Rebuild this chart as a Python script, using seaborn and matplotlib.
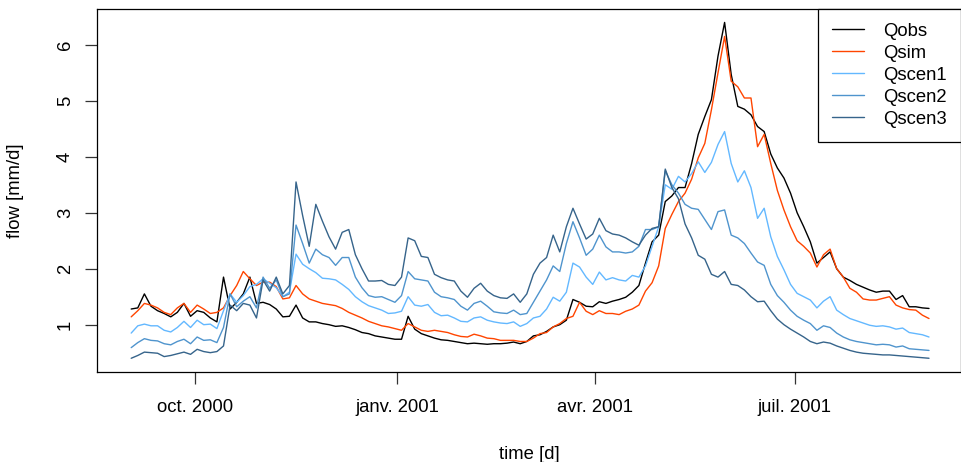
import numpy as np
import pandas as pd
import matplotlib
matplotlib.use("Agg")
import matplotlib.pyplot as plt
from matplotlib.lines import Line2D
import seaborn as sns

# ---------------- data (daily flows read every 3 days) ----------------
start_date = "2000-09-02"
step_days = 3

qobs = [1.28, 1.30, 1.55, 1.33, 1.25, 1.20, 1.14, 1.22, 1.38, 1.15,
        1.25, 1.22, 1.12, 1.05, 1.85, 1.28, 1.40, 1.55, 1.85, 1.38,
        1.40, 1.36, 1.28, 1.14, 1.15, 1.35, 1.12, 1.05, 1.05, 1.02,
        1.00, 0.97, 0.98, 0.95, 0.91, 0.86, 0.84, 0.80, 0.78, 0.76,
        0.74, 0.74, 1.15, 0.92, 0.84, 0.80, 0.76, 0.73, 0.72, 0.70,
        0.68, 0.66, 0.67, 0.66, 0.65, 0.66, 0.66, 0.67, 0.69, 0.66,
        0.70, 0.80, 0.82, 0.88, 0.96, 1.00, 1.08, 1.45, 1.40, 1.33,
        1.32, 1.41, 1.38, 1.42, 1.45, 1.49, 1.58, 1.70, 2.10, 2.48,
        2.60, 3.20, 3.30, 3.45, 3.45, 3.88, 4.40, 4.72, 5.02, 5.80,
        6.40, 5.47, 4.90, 4.85, 4.75, 4.54, 4.45, 4.05, 3.80, 3.62,
        3.35, 3.00, 2.75, 2.48, 2.10, 2.20, 2.30, 2.00, 1.85, 1.79,
        1.72, 1.67, 1.62, 1.58, 1.60, 1.60, 1.45, 1.52, 1.32, 1.32,
        1.30, 1.29]

qsim = [1.14, 1.25, 1.38, 1.35, 1.30, 1.22, 1.18, 1.30, 1.38, 1.22,
        1.35, 1.28, 1.20, 1.22, 1.30, 1.52, 1.70, 1.95, 1.82, 1.70,
        1.76, 1.76, 1.68, 1.46, 1.48, 1.70, 1.55, 1.46, 1.42, 1.38,
        1.36, 1.34, 1.29, 1.22, 1.17, 1.12, 1.06, 1.02, 0.98, 0.96,
        0.93, 0.90, 1.02, 0.96, 0.90, 0.88, 0.90, 0.88, 0.86, 0.82,
        0.79, 0.78, 0.83, 0.80, 0.76, 0.75, 0.72, 0.72, 0.72, 0.70,
        0.70, 0.76, 0.84, 0.86, 0.96, 1.02, 1.11, 1.15, 1.40, 1.24,
        1.18, 1.25, 1.20, 1.20, 1.18, 1.24, 1.28, 1.35, 1.60, 1.75,
        2.05, 2.72, 2.97, 3.20, 3.35, 3.60, 3.98, 4.24, 4.84, 5.50,
        6.15, 5.35, 5.25, 5.05, 5.05, 4.18, 4.40, 3.88, 3.40, 3.05,
        2.75, 2.50, 2.40, 2.28, 2.03, 2.25, 2.35, 2.00, 1.85, 1.65,
        1.58, 1.46, 1.44, 1.44, 1.47, 1.50, 1.35, 1.30, 1.27, 1.26,
        1.17, 1.11]

qscen1 = [0.85, 0.98, 1.01, 0.98, 0.98, 0.90, 0.87, 0.95, 1.06, 0.95,
          1.08, 1.00, 1.01, 0.93, 1.25, 1.55, 1.40, 1.52, 1.68, 1.72,
          1.82, 1.74, 1.66, 1.50, 1.58, 2.26, 2.08, 2.00, 1.93, 1.83,
          1.82, 1.80, 1.72, 1.63, 1.50, 1.41, 1.34, 1.30, 1.26, 1.20,
          1.21, 1.24, 1.50, 1.35, 1.33, 1.36, 1.22, 1.16, 1.17, 1.12,
          1.06, 1.05, 1.12, 1.14, 1.08, 1.05, 1.03, 1.02, 1.05, 0.97,
          1.02, 1.12, 1.15, 1.28, 1.49, 1.42, 1.58, 2.10, 2.03, 1.85,
          1.72, 1.94, 1.80, 1.84, 1.80, 1.78, 1.88, 1.85, 2.05, 2.40,
          2.75, 3.50, 3.42, 3.65, 3.55, 3.70, 3.91, 3.72, 3.90, 4.22,
          4.45, 3.88, 3.55, 3.75, 3.45, 2.90, 3.08, 2.57, 2.22, 1.98,
          1.72, 1.56, 1.50, 1.44, 1.30, 1.42, 1.50, 1.26, 1.18, 1.11,
          1.07, 1.03, 0.99, 0.97, 0.98, 0.96, 0.92, 0.94, 0.86, 0.84,
          0.82, 0.78]

qscen2 = [0.59, 0.68, 0.75, 0.72, 0.71, 0.66, 0.64, 0.70, 0.74, 0.66,
          0.78, 0.72, 0.73, 0.68, 0.95, 1.55, 1.32, 1.42, 1.50, 1.30,
          1.85, 1.65, 1.80, 1.50, 1.55, 2.78, 2.45, 2.10, 2.35, 2.25,
          2.20, 2.06, 2.20, 2.20, 1.85, 1.66, 1.52, 1.49, 1.50, 1.45,
          1.40, 1.52, 1.95, 1.82, 1.80, 1.78, 1.58, 1.50, 1.48, 1.45,
          1.33, 1.26, 1.38, 1.42, 1.33, 1.23, 1.21, 1.20, 1.26, 1.18,
          1.20, 1.40, 1.60, 1.80, 2.05, 1.95, 2.45, 2.84, 2.55, 2.24,
          2.35, 2.60, 2.39, 2.30, 2.30, 2.28, 2.30, 2.40, 2.70, 2.70,
          2.75, 3.75, 3.50, 3.35, 3.15, 3.08, 3.06, 2.88, 2.70, 3.02,
          3.05, 2.60, 2.55, 2.45, 2.28, 2.12, 2.06, 1.72, 1.52, 1.40,
          1.26, 1.15, 1.08, 1.02, 0.90, 0.98, 0.95, 0.85, 0.78, 0.73,
          0.70, 0.68, 0.66, 0.64, 0.65, 0.64, 0.60, 0.62, 0.57, 0.56,
          0.55, 0.54]

qscen3 = [0.40, 0.45, 0.51, 0.50, 0.49, 0.43, 0.45, 0.48, 0.51, 0.47,
          0.56, 0.52, 0.50, 0.52, 0.62, 1.35, 1.25, 1.38, 1.35, 1.12,
          1.80, 1.60, 1.85, 1.55, 1.70, 3.55, 2.95, 2.40, 3.15, 2.85,
          2.57, 2.35, 2.65, 2.70, 2.25, 2.00, 1.78, 1.78, 1.79, 1.72,
          1.70, 1.85, 2.55, 2.50, 2.22, 2.20, 1.90, 1.84, 1.80, 1.78,
          1.60, 1.49, 1.65, 1.74, 1.60, 1.52, 1.48, 1.47, 1.55, 1.40,
          1.55, 1.90, 2.10, 2.20, 2.60, 2.30, 2.75, 3.08, 2.80, 2.53,
          2.62, 2.90, 2.68, 2.62, 2.60, 2.55, 2.48, 2.42, 2.60, 2.72,
          2.75, 3.78, 3.45, 3.25, 2.80, 2.55, 2.24, 2.17, 1.90, 1.85,
          1.95, 1.72, 1.70, 1.62, 1.50, 1.41, 1.42, 1.25, 1.10, 1.00,
          0.92, 0.85, 0.78, 0.70, 0.66, 0.69, 0.67, 0.62, 0.58, 0.54,
          0.51, 0.49, 0.48, 0.47, 0.46, 0.46, 0.45, 0.44, 0.43, 0.42,
          0.41, 0.40]

series_names = ["Qobs", "Qsim", "Qscen1", "Qscen2", "Qscen3"]
series_colors = ["black", "#FF4500", "#63B8FF", "#4F94CD", "#36648B"]
tick_dates = ["2000-10-01", "2001-01-01", "2001-04-01", "2001-07-01"]
tick_labels = ["oct. 2000", "janv. 2001", "avr. 2001", "juil. 2001"]
y_ticks = [1, 2, 3, 4, 5, 6]
period = ("2000-09-01", "2001-08-31")

# ---------------- build table ----------------
dates = pd.date_range(start_date, periods=len(qobs), freq=f"{step_days}D")
values = {"Qobs": qobs, "Qsim": qsim, "Qscen1": qscen1,
          "Qscen2": qscen2, "Qscen3": qscen3}
df = pd.concat([pd.DataFrame({"date": dates, "flow": values[n], "series": n})
                for n in series_names], ignore_index=True)

# ---------------- style ----------------
sns.set_theme(style="white")
plt.rcParams["font.family"] = ["Liberation Sans", "DejaVu Sans"]
plt.rcParams["axes.edgecolor"] = "black"
plt.rcParams["axes.labelcolor"] = "black"
plt.rcParams["text.color"] = "black"
plt.rcParams["axes.linewidth"] = 0.9

fig = plt.figure(figsize=(9.62, 4.62), dpi=100)
W, H = 962, 462
ax = fig.add_axes([97 / W, 1 - 371.7 / H, (961 - 97) / W, (371.7 - 9) / H])

sns.lineplot(data=df, x="date", y="flow", hue="series",
             hue_order=series_names, palette=dict(zip(series_names, series_colors)),
             estimator=None, linewidth=1.0, ax=ax, legend=False)

# R-like 4% padding
d0, d1 = pd.Timestamp(period[0]), pd.Timestamp(period[1])
span = (d1 - d0) * 0.04
ax.set_xlim(d0 - span, d1 + span)
allv = np.concatenate([np.asarray(values[n]) for n in series_names])
r = allv.max() - allv.min()
ax.set_ylim(allv.min() - 0.04 * r, allv.max() + 0.04 * r)

ax.set_xticks(pd.to_datetime(tick_dates))
ax.set_xticklabels(tick_labels)
ax.set_yticks(y_ticks)
ax.set_yticklabels([str(v) for v in y_ticks])

fs = 13.3
ax.tick_params(axis="both", direction="out", length=8.6, width=0.9,
               color="#333333", labelsize=fs, labelcolor="black",
               bottom=True, left=True)
ax.tick_params(axis="x", pad=11)
ax.tick_params(axis="y", pad=8, labelrotation=90)
for lab in ax.get_yticklabels():
    lab.set_va("center")

ax.set_xlabel("time [d]", fontsize=fs, labelpad=22, color="black")
ax.set_ylabel("flow [mm/d]", fontsize=fs, labelpad=24, color="black")
for s in ax.spines.values():
    s.set_visible(True)
    s.set_color("black")
    s.set_linewidth(0.9)

handles = [Line2D([], [], color=c, lw=1.0) for c in series_colors]
leg = ax.legend(handles, series_names, loc="upper right", bbox_to_anchor=(1, 1),
                borderaxespad=0, fontsize=fs, frameon=True, fancybox=False,
                handlelength=1.75, handletextpad=1.05, labelspacing=0.27,
                borderpad=0.75, labelcolor="black")
leg.get_frame().set_edgecolor("black")
leg.get_frame().set_linewidth(0.9)
leg.get_frame().set_alpha(1)

fig.savefig("out.png", dpi=100)
